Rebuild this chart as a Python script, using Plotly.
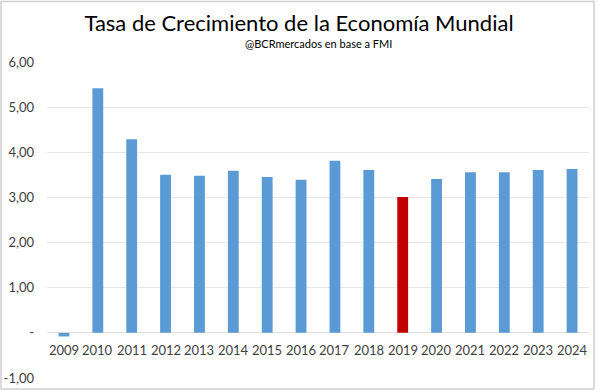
import plotly.graph_objects as go

years = ["2009", "2010", "2011", "2012", "2013", "2014", "2015", "2016",
         "2017", "2018", "2019", "2020", "2021", "2022", "2023", "2024"]
growth = [-0.08, 5.42, 4.29, 3.50, 3.48, 3.59, 3.45, 3.39,
          3.81, 3.61, 3.01, 3.41, 3.56, 3.56, 3.61, 3.63]
highlight_year = "2019"
y_ticks = [-1, 0, 1, 2, 3, 4, 5, 6]
y_ticklabels = ["-1,00", "-", "1,00", "2,00", "3,00", "4,00", "5,00", "6,00"]

BLUE = "#5b9bd5"
RED = "#c00000"
colors = [RED if y == highlight_year else BLUE for y in years]

W, H = 598, 391
ML, MR, MT, MB = 47, 9, 62, 13
pw = W - ML - MR
ph = H - MT - MB

fig = go.Figure()
fig.add_trace(go.Bar(
    x=years, y=growth, marker=dict(color=colors, line=dict(width=0)),
    width=0.32, hoverinfo="x+y",
))

# category labels drawn at the zero line (as in the original)
for i, yr in enumerate(years):
    fig.add_annotation(x=i, y=0, xref="x", yref="y", text=yr, showarrow=False,
                       yanchor="middle", yshift=-17,
                       font=dict(family="Lato", size=13, color="#404040"))

fig.add_annotation(x=0.5, y=(H - MB - 44) / ph, xref="paper", yref="paper",
                   text="@BCRmercados en base a FMI", showarrow=False,
                   xanchor="center", yanchor="middle",
                   font=dict(family="Lato", size=11, color="#000000"))

# outer border of the chart area
fig.add_shape(type="rect", xref="paper", yref="paper",
              x0=(1 - ML) / pw, x1=(W - ML - 4) / pw,
              y0=-(MB - 2) / ph, y1=1 + (MT - 1.5) / ph,
              line=dict(color="#d0d0d0", width=1.5), fillcolor="rgba(0,0,0,0)")

fig.update_layout(
    width=W, height=H,
    margin=dict(l=ML, r=MR, t=MT, b=MB, autoexpand=False),
    paper_bgcolor="white", plot_bgcolor="white",
    showlegend=False,
    title=dict(
        text="Tasa de Crecimiento de la Economía Mundial",
        x=0.5, xanchor="center", yref="container", y=1 - 23 / H, yanchor="middle",
        font=dict(family="Lato", size=22, color="#000000"),
    ),
    xaxis=dict(type="category", range=[-0.5, len(years) - 0.5],
               showticklabels=False, showgrid=False,
               zeroline=False, showline=False, ticks="", automargin=False),
    yaxis=dict(range=[-1, 6], tickvals=y_ticks, ticktext=y_ticklabels,
               showgrid=True, gridcolor="#e8e8e8", gridwidth=1,
               zeroline=True, zerolinecolor="#e0e0e0", zerolinewidth=1,
               showline=False, ticks="", ticklabelstandoff=12, automargin=False,
               tickfont=dict(family="Lato", size=13, color="#404040")),
)

fig.write_html(
    "out.html",
    config={"displayModeBar": False},
    post_script="document.body.style.margin='0';document.body.style.overflow='hidden';",
)
